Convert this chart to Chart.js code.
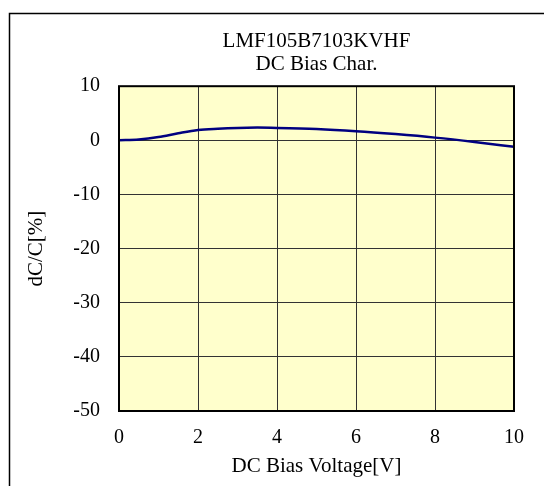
<!DOCTYPE html>
<html>
<head>
<meta charset="utf-8">
<script src="https://cdn.jsdelivr.net/npm/chart.js@4"></script>
<style>
  html, body { margin: 0; padding: 0; background: #fff; }
  #wrap { width: 544px; height: 486px; }
</style>
</head>
<body>
<div id="wrap"><canvas id="chart" width="544" height="486"></canvas></div>
<script>
const voltage = [0, 0.5, 1, 1.5, 2, 2.5, 3, 3.5, 4, 5, 6, 7, 8, 9, 10];
const dcdc = [0, 0.15, 0.6, 1.3, 1.9, 2.15, 2.3, 2.35, 2.3, 2.1, 1.7, 1.15, 0.5, -0.3, -1.2];
const titleLines = ['LMF105B7103KVHF', 'DC Bias Char.'];
const xTitle = 'DC Bias Voltage[V]';
const yTitle = 'dC/C[%]';

const serif = 'Liberation Serif, Times New Roman, serif';

// plot background, frame and the page border
const framePlugin = {
    id: 'frame',
    beforeDraw(c) {
        const ctx = c.ctx, a = c.chartArea;
        ctx.save();
        ctx.fillStyle = '#FFFFCC';
        ctx.fillRect(a.left, a.top, a.right - a.left, a.bottom - a.top);
        ctx.strokeStyle = '#000';
        ctx.lineWidth = 1.5;
        ctx.beginPath();
        ctx.moveTo(9.5, 486);
        ctx.lineTo(9.5, 13.5);
        ctx.lineTo(544, 13.5);
        ctx.stroke();
        ctx.restore();
    },
    afterDraw(c) {
        const ctx = c.ctx, a = c.chartArea;
        ctx.save();
        ctx.strokeStyle = '#000';
        ctx.lineWidth = 2;
        ctx.strokeRect(a.left, a.top, a.right - a.left, a.bottom - a.top);
        ctx.restore();
    }
};

new Chart(document.getElementById('chart'), {
    type: 'line',
    data: {
        datasets: [{
            data: voltage.map((v, i) => ({ x: v, y: dcdc[i] })),
            borderColor: '#000080',
            borderWidth: 2.5,
            pointRadius: 0,
            cubicInterpolationMode: 'monotone',
            clip: false,
        }]
    },
    options: {
        responsive: false,
        animation: false,
        layout: { padding: { top: 30, right: 30, left: 0, bottom: 0 } },
        scales: {
            x: {
                type: 'linear',
                min: 0,
                max: 10,
                ticks: { stepSize: 2, color: '#000', padding: 15, font: { family: serif, size: 20 } },
                grid: { color: '#333', lineWidth: 1, drawTicks: false },
                border: { display: false },
                title: { display: true, text: xTitle, color: '#000', padding: { top: 0, bottom: 7 }, font: { family: serif, size: 21 } },
                afterFit(s) { s.height = 75; }
            },
            y: {
                min: -50,
                max: 10,
                ticks: { stepSize: 10, color: '#000', padding: 19, font: { family: serif, size: 20 } },
                grid: { color: '#333', lineWidth: 1, drawTicks: false },
                border: { display: false },
                title: { display: true, text: yTitle, color: '#000', padding: { top: 24, bottom: 0 }, font: { family: serif, size: 21 } },
                afterFit(s) { s.width = 119; }
            }
        },
        plugins: {
            legend: { display: false },
            tooltip: { enabled: false },
            title: {
                display: true,
                text: titleLines,
                fullSize: false,
                color: '#000',
                padding: { top: 0, bottom: 10 },
                font: { family: serif, size: 21, weight: 'normal', lineHeight: 1.1 }
            }
        }
    },
    plugins: [framePlugin]
});
</script>
</body>
</html>
